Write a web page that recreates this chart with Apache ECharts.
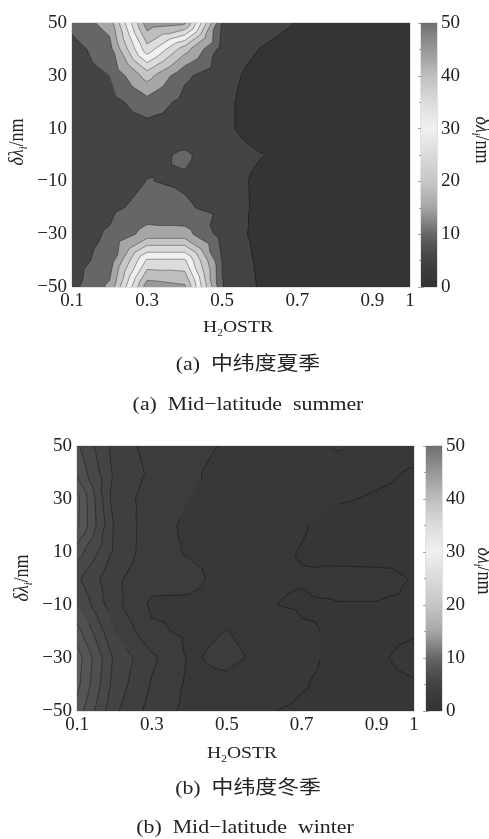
<!DOCTYPE html>
<html><head><meta charset="utf-8">
<script src="https://cdn.jsdelivr.net/npm/echarts@6/dist/echarts.min.js"></script>
<style>html,body{margin:0;padding:0;background:#fff}#c{width:489px;height:839px}</style>
</head><body><div id="c"></div>
<script>
// ---- data ----
const xGrid = [0.1, 0.2, 0.3, 0.4, 0.5, 0.6, 0.7, 0.8, 0.9, 1.0];
const yGrid = [50, 40, 30, 20, 10, 0, -10, -20, -30, -40, -50];
// rows follow yGrid, columns follow xGrid
const summerZ = [
  [11.5, 17, 48, 46, 9.5, 6.5, 4.9, 3.5, 3, 3],
  [8, 13, 38, 22, 8, 4.9, 3.5, 3, 2.5, 2.5],
  [8, 10, 22, 10.8, 7, 3, 2.5, 2.5, 2.5, 2.5],
  [7.5, 8, 13, 8.5, 6.5, 2, 2, 2, 2, 2],
  [7.5, 7, 8, 8, 6.5, 2, 2, 2, 2, 2],
  [7.5, 7, 9, 10.5, 8, 5.3, 3, 2, 2, 2],
  [7.5, 7.5, 10.1, 9.6, 8.5, 3.5, 2.5, 2, 2, 2],
  [8, 9, 11.5, 10.4, 9, 3.5, 2.5, 2, 2, 2],
  [8, 10.5, 17, 17, 8, 3.5, 2.5, 2, 2, 2],
  [8, 12, 36, 36, 9.8, 4, 2.5, 2, 2, 2],
  [8.5, 16, 48, 46, 10.2, 4.5, 3, 2.5, 2, 2]
];
const winterZ = [
  [7.2, 4.6, 3.6, 3.3, 2.9, 2.6, 2.5, 3.15, 2.5, 2.4],
  [7.8, 4.8, 3.8, 3.15, 2.7, 2.6, 2.4, 2.4, 2.2, 1.9],
  [9.3, 4.5, 3.6, 3.0, 2.8, 2.5, 2.3, 2.1, 1.9, 1.8],
  [9.2, 4.9, 3.4, 2.8, 2.7, 2.5, 2.1, 1.5, 1.5, 1.6],
  [7.5, 4.8, 3.4, 2.9, 2.7, 2.3, 1.95, 1.6, 1.6, 1.8],
  [6.2, 4.2, 3.4, 3.3, 2.6, 2.1, 2.05, 2.35, 2.3, 1.95],
  [7.0, 4.3, 2.8, 2.8, 2.6, 2.05, 1.9, 1.95, 1.95, 1.9],
  [8.4, 5.0, 3.2, 2.8, 3.02, 2.7, 2.1, 1.9, 1.8, 1.9],
  [9.5, 5.8, 4.2, 2.9, 3.2, 2.8, 2.2, 1.8, 1.85, 2.3],
  [9.3, 5.6, 3.9, 2.8, 2.8, 2.3, 2.05, 1.8, 1.8, 1.9],
  [8.6, 5.2, 3.6, 2.7, 2.7, 2.05, 1.9, 1.85, 1.9, 1.9]
];
const summerLevels = [0, 5, 10, 15, 20, 25, 30, 35, 40, 45, 50];
const winterLevels = [0, 1, 2, 3, 4, 5, 6, 7, 8, 9, 10];
const cmapValues = [0, 2, 4, 6, 8, 10, 12, 15, 20, 25, 30, 35, 40, 45, 50];
const cmapGrays  = [0x34, 0x38, 0x3f, 0x48, 0x55, 0x66, 0x80, 0xa6, 0xc6, 0xda, 0xf0, 0xdc, 0xbe, 0x98, 0x70];
const xTickValues = [0.1, 0.3, 0.5, 0.7, 0.9, 1];
const yTickValues = [-50, -30, -10, 10, 30, 50];
const cbMin = 0, cbMax = 50, cbStep = 10;

// ---- helpers ----
const SERIF = "'Liberation Serif','Times New Roman',serif";
const CJK = "'Liberation Serif','Noto Sans CJK SC',serif";
const SX = 1.15; // the reference text is stretched horizontally
function gray(g) { g = Math.round(g); return 'rgb(' + g + ',' + g + ',' + g + ')'; }
function colorAt(v) {
  if (v <= cmapValues[0]) return gray(cmapGrays[0]);
  for (let i = 1; i < cmapValues.length; i++) {
    if (v <= cmapValues[i]) {
      const t = (v - cmapValues[i - 1]) / (cmapValues[i] - cmapValues[i - 1]);
      return gray(cmapGrays[i - 1] + t * (cmapGrays[i] - cmapGrays[i - 1]));
    }
  }
  return gray(cmapGrays[cmapGrays.length - 1]);
}
function clipPoly(poly, level) {
  const out = [], n = poly.length;
  for (let i = 0; i < n; i++) {
    const a = poly[i], b = poly[(i + 1) % n];
    const ain = a[2] >= level, bin = b[2] >= level;
    if (ain) out.push(a);
    if (ain !== bin) {
      const t = (level - a[2]) / (b[2] - a[2]);
      out.push([a[0] + t * (b[0] - a[0]), a[1] + t * (b[1] - a[1]), level]);
    }
  }
  return out;
}
function cellTriangles(Z, c, r) {
  const p00 = [xGrid[c], yGrid[r], Z[r][c]];
  const p10 = [xGrid[c + 1], yGrid[r], Z[r][c + 1]];
  const p11 = [xGrid[c + 1], yGrid[r + 1], Z[r + 1][c + 1]];
  const p01 = [xGrid[c], yGrid[r + 1], Z[r + 1][c]];
  const m = [(p00[0] + p10[0]) / 2, (p00[1] + p01[1]) / 2, (p00[2] + p10[2] + p11[2] + p01[2]) / 4];
  return [[p00, p10, m], [p10, p11, m], [p11, p01, m], [p01, p00, m]];
}
function allTriangles(Z) {
  const t = [];
  for (let r = 0; r < yGrid.length - 1; r++)
    for (let c = 0; c < xGrid.length - 1; c++)
      cellTriangles(Z, c, r).forEach(tr => t.push(tr));
  return t;
}
const f2 = v => v.toFixed(2);
// one item per contour level: the region z >= level, painted in increasing order
function makeFill(Z, levels) {
  const tris = allTriangles(Z);
  return function (params, api) {
    const k = api.value(2);
    let d = '';
    tris.forEach(tri => {
      const p = k === 0 ? tri : clipPoly(tri, levels[k]);
      if (p.length >= 3) {
        p.forEach((q, i) => {
          const s = api.coord([q[0], q[1]]);
          d += (i === 0 ? 'M' : 'L') + f2(s[0]) + ' ' + f2(s[1]);
        });
        d += 'Z';
      }
    });
    if (!d) return null;
    return { type: 'path', shape: { pathData: d }, style: { fill: colorAt(levels[k]), stroke: null } };
  };
}
function makeLines(Z, levels) {
  const tris = allTriangles(Z);
  return function (params, api) {
    const L = levels[api.value(2)];
    let d = '';
    tris.forEach(tri => {
      const pts = [];
      for (let i = 0; i < 3; i++) {
        const a = tri[i], b = tri[(i + 1) % 3];
        if ((a[2] - L) * (b[2] - L) < 0) {
          const t = (L - a[2]) / (b[2] - a[2]);
          pts.push(api.coord([a[0] + t * (b[0] - a[0]), a[1] + t * (b[1] - a[1])]));
        }
      }
      if (pts.length === 2) d += 'M' + f2(pts[0][0]) + ' ' + f2(pts[0][1]) + 'L' + f2(pts[1][0]) + ' ' + f2(pts[1][1]);
    });
    if (!d) return null;
    return { type: 'path', shape: { pathData: d }, style: { fill: null, stroke: 'rgba(0,0,0,0.4)', lineWidth: 0.9 } };
  };
}
function levelItems(levels, from) {
  const d = [];
  for (let k = from; k < levels.length; k++) d.push([0.55, 0, k]);
  return d;
}
function colorbarRender(params, api) {
  const p0 = api.coord([0, cbMin]), p1 = api.coord([1, cbMax]);
  const stops = cmapValues.map((v, i) => ({ offset: (v - cbMin) / (cbMax - cbMin), color: gray(cmapGrays[i]) }));
  return {
    type: 'rect',
    shape: { x: p0[0], y: p1[1], width: p1[0] - p0[0], height: p0[1] - p1[1] },
    style: { fill: new echarts.graphic.LinearGradient(0, 1, 0, 0, stops) }
  };
}
const fmtX = v => String(+(+v).toFixed(1));
const fmtY = v => (v < 0 ? '\u2212' + Math.abs(v) : String(v));

function mainX(gi) {
  return {
    type: 'value', gridIndex: gi, min: 0.1, max: 1,
    axisLine: { show: false }, axisTick: { show: false }, splitLine: { show: false },
    axisLabel: { customValues: xTickValues, formatter: fmtX, color: '#222', fontFamily: SERIF, fontSize: 19, margin: 5 }
  };
}
function mainY(gi) {
  return {
    type: 'value', gridIndex: gi, min: -50, max: 50,
    axisLine: { show: false }, axisTick: { show: false }, splitLine: { show: false },
    axisLabel: { customValues: yTickValues, formatter: fmtY, color: '#222', fontFamily: SERIF, fontSize: 19, margin: 5 }
  };
}
function cbX(gi) { return { type: 'value', gridIndex: gi, min: 0, max: 1, show: false }; }
function cbY(gi, side) {
  return {
    type: 'value', gridIndex: gi, min: cbMin, max: cbMax, interval: cbStep, position: side,
    axisLine: { show: false }, splitLine: { show: false },
    axisTick: { show: true, inside: true, length: 3, lineStyle: { color: '#a0a0a0', width: 1 } },
    minorTick: { show: true, splitNumber: 2, length: 2, lineStyle: { color: '#a0a0a0', width: 1 } },
    axisLabel: { show: side === 'right', color: '#222', fontFamily: SERIF, fontSize: 19, margin: 4 }
  };
}
const richLam = {
  it: { fontFamily: SERIF, fontStyle: 'italic', fontSize: 18, color: '#222', lineHeight: 20 },
  sub: { fontFamily: SERIF, fontStyle: 'italic', fontSize: 10, color: '#222', verticalAlign: 'bottom', lineHeight: 10 },
  n: { fontFamily: SERIF, fontSize: 18, color: '#222', lineHeight: 20 }
};
const richH2O = {
  n: { fontFamily: SERIF, fontSize: 17, color: '#222', lineHeight: 20 },
  sub: { fontFamily: SERIF, fontSize: 10, color: '#222', verticalAlign: 'bottom', lineHeight: 10 }
};
function txt(x, y, text, rich, rot, font) {
  const st = { text: text, x: 0, y: 0, align: 'center', verticalAlign: 'middle', fill: '#222' };
  if (rich) st.rich = rich; else st.font = font;
  const el = { type: 'text', x: x, y: y, rotation: rot || 0, style: st, silent: true };
  if (rot) el.scaleY = SX; else el.scaleX = SX;
  return el;
}
const LAM = '{it|\u03b4\u03bb}{sub|i}{n|/nm}';
const H2O = '{n|H}{sub|2}{n|OSTR}';

const chart = echarts.init(document.getElementById('c'), null, { renderer: 'canvas', width: 489, height: 839 });
chart.setOption({
  animation: false,
  backgroundColor: '#fff',
  grid: [
    { left: 72, top: 23, width: 338, height: 264, show: true, borderColor: '#c4c4c4', borderWidth: 1, backgroundColor: 'transparent' },
    { left: 421, top: 23, width: 16, height: 264, show: true, borderColor: '#c4c4c4', borderWidth: 1, backgroundColor: 'transparent' },
    { left: 77, top: 446, width: 337, height: 265, show: true, borderColor: '#c4c4c4', borderWidth: 1, backgroundColor: 'transparent' },
    { left: 426, top: 446, width: 16, height: 265, show: true, borderColor: '#c4c4c4', borderWidth: 1, backgroundColor: 'transparent' }
  ],
  xAxis: [mainX(0), cbX(1), mainX(2), cbX(3)],
  yAxis: [mainY(0), cbY(1, 'right'), mainY(2), cbY(3, 'right'), cbY(1, 'left'), cbY(3, 'left')],
  series: [
    { type: 'custom', xAxisIndex: 0, yAxisIndex: 0, data: levelItems(summerLevels, 0), encode: { x: 0, y: 1 }, renderItem: makeFill(summerZ, summerLevels), clip: true, silent: true, z: 2 },
    { type: 'custom', xAxisIndex: 0, yAxisIndex: 0, data: levelItems(summerLevels, 1), encode: { x: 0, y: 1 }, renderItem: makeLines(summerZ, summerLevels), clip: true, silent: true, z: 3 },
    { type: 'custom', xAxisIndex: 2, yAxisIndex: 2, data: levelItems(winterLevels, 0), encode: { x: 0, y: 1 }, renderItem: makeFill(winterZ, winterLevels), clip: true, silent: true, z: 2 },
    { type: 'custom', xAxisIndex: 2, yAxisIndex: 2, data: levelItems(winterLevels, 1), encode: { x: 0, y: 1 }, renderItem: makeLines(winterZ, winterLevels), clip: true, silent: true, z: 3 },
    { type: 'custom', xAxisIndex: 1, yAxisIndex: 1, data: [[0.5, 25]], renderItem: colorbarRender, silent: true, z: 1 },
    { type: 'custom', xAxisIndex: 3, yAxisIndex: 3, data: [[0.5, 25]], renderItem: colorbarRender, silent: true, z: 1 }
  ],
  graphic: [
    txt(18, 142, LAM, richLam, Math.PI / 2),
    txt(481, 140, LAM, richLam, -Math.PI / 2),
    txt(238, 328, H2O, richH2O),
    txt(248, 365, '(a)  \u4e2d\u7eac\u5ea6\u590f\u5b63', null, 0, "19px " + CJK),
    txt(248, 405, '(a)  Mid\u2212latitude  summer', null, 0, "19px " + SERIF),
    txt(23, 578, LAM, richLam, Math.PI / 2),
    txt(483, 571, LAM, richLam, -Math.PI / 2),
    txt(242, 754, H2O, richH2O),
    txt(248, 789, '(b)  \u4e2d\u7eac\u5ea6\u51ac\u5b63', null, 0, "19px " + CJK),
    txt(245, 828, '(b)  Mid\u2212latitude  winter', null, 0, "19px " + SERIF)
  ]
});
</script>
</body></html>
